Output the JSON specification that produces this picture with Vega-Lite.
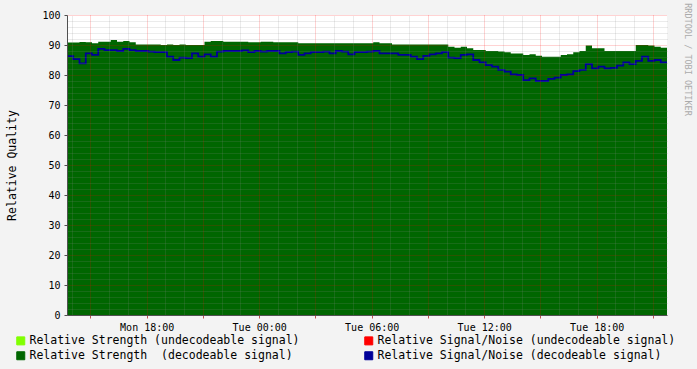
{
  "$schema": "https://vega.github.io/schema/vega-lite/v6.json",
  "autosize": "none",
  "width": 600,
  "height": 300,
  "padding": {"left": 67, "top": 15, "right": 30, "bottom": 54},
  "background": "#f3f3f3",
  "config": {"view": {"stroke": null, "fill": "white"}},
  "data": {"values": [
    {"t":"2024-01-01T13:45Z","g":90.8,"b":86.3},
    {"t":"2024-01-01T14:05Z","g":90.8,"b":85.3},
    {"t":"2024-01-01T14:25Z","g":91.0,"b":83.9},
    {"t":"2024-01-01T14:45Z","g":90.9,"b":87.2},
    {"t":"2024-01-01T15:05Z","g":90.6,"b":86.7},
    {"t":"2024-01-01T15:25Z","g":91.1,"b":88.7},
    {"t":"2024-01-01T15:45Z","g":91.1,"b":88.3},
    {"t":"2024-01-01T16:05Z","g":91.7,"b":88.3},
    {"t":"2024-01-01T16:25Z","g":91.1,"b":88.0},
    {"t":"2024-01-01T16:45Z","g":91.3,"b":88.7},
    {"t":"2024-01-01T17:05Z","g":90.9,"b":88.3},
    {"t":"2024-01-01T17:25Z","g":90.2,"b":88.0},
    {"t":"2024-01-01T17:45Z","g":90.2,"b":88.0},
    {"t":"2024-01-01T18:05Z","g":90.2,"b":87.8},
    {"t":"2024-01-01T18:25Z","g":90.2,"b":87.6},
    {"t":"2024-01-01T18:45Z","g":90.0,"b":87.6},
    {"t":"2024-01-01T19:05Z","g":90.2,"b":86.1},
    {"t":"2024-01-01T19:25Z","g":90.0,"b":85.0},
    {"t":"2024-01-01T19:45Z","g":90.2,"b":85.8},
    {"t":"2024-01-01T20:05Z","g":90.0,"b":85.6},
    {"t":"2024-01-01T20:25Z","g":90.0,"b":87.2},
    {"t":"2024-01-01T20:45Z","g":90.0,"b":86.1},
    {"t":"2024-01-01T21:05Z","g":91.1,"b":86.9},
    {"t":"2024-01-01T21:25Z","g":91.3,"b":86.1},
    {"t":"2024-01-01T21:45Z","g":91.3,"b":87.8},
    {"t":"2024-01-01T22:05Z","g":91.1,"b":88.0},
    {"t":"2024-01-01T22:25Z","g":91.1,"b":88.0},
    {"t":"2024-01-01T22:45Z","g":91.1,"b":88.0},
    {"t":"2024-01-01T23:05Z","g":91.1,"b":88.2},
    {"t":"2024-01-01T23:25Z","g":90.9,"b":87.6},
    {"t":"2024-01-01T23:45Z","g":90.9,"b":88.0},
    {"t":"2024-01-02T00:05Z","g":91.1,"b":87.8},
    {"t":"2024-01-02T00:25Z","g":91.1,"b":88.0},
    {"t":"2024-01-02T00:45Z","g":90.9,"b":88.0},
    {"t":"2024-01-02T01:05Z","g":90.9,"b":87.2},
    {"t":"2024-01-02T01:25Z","g":90.9,"b":87.6},
    {"t":"2024-01-02T01:45Z","g":90.9,"b":87.8},
    {"t":"2024-01-02T02:05Z","g":90.6,"b":86.7},
    {"t":"2024-01-02T02:25Z","g":90.6,"b":87.2},
    {"t":"2024-01-02T02:45Z","g":90.6,"b":87.6},
    {"t":"2024-01-02T03:05Z","g":90.6,"b":87.6},
    {"t":"2024-01-02T03:25Z","g":90.6,"b":87.8},
    {"t":"2024-01-02T03:45Z","g":90.6,"b":87.2},
    {"t":"2024-01-02T04:05Z","g":90.6,"b":88.0},
    {"t":"2024-01-02T04:25Z","g":90.6,"b":87.8},
    {"t":"2024-01-02T04:45Z","g":90.6,"b":86.9},
    {"t":"2024-01-02T05:05Z","g":90.6,"b":87.6},
    {"t":"2024-01-02T05:25Z","g":90.6,"b":87.6},
    {"t":"2024-01-02T05:45Z","g":90.6,"b":87.8},
    {"t":"2024-01-02T06:05Z","g":90.9,"b":88.0},
    {"t":"2024-01-02T06:25Z","g":90.6,"b":87.2},
    {"t":"2024-01-02T06:45Z","g":90.6,"b":87.2},
    {"t":"2024-01-02T07:05Z","g":90.2,"b":87.2},
    {"t":"2024-01-02T07:25Z","g":90.2,"b":86.7},
    {"t":"2024-01-02T07:45Z","g":90.2,"b":86.7},
    {"t":"2024-01-02T08:05Z","g":90.2,"b":86.1},
    {"t":"2024-01-02T08:25Z","g":90.2,"b":85.3},
    {"t":"2024-01-02T08:45Z","g":90.2,"b":86.4},
    {"t":"2024-01-02T09:05Z","g":90.2,"b":86.9},
    {"t":"2024-01-02T09:25Z","g":90.2,"b":87.2},
    {"t":"2024-01-02T09:45Z","g":90.2,"b":87.6},
    {"t":"2024-01-02T10:05Z","g":89.4,"b":85.8},
    {"t":"2024-01-02T10:25Z","g":89.1,"b":85.6},
    {"t":"2024-01-02T10:45Z","g":89.4,"b":86.7},
    {"t":"2024-01-02T11:05Z","g":88.9,"b":86.9},
    {"t":"2024-01-02T11:25Z","g":88.3,"b":85.0},
    {"t":"2024-01-02T11:45Z","g":88.3,"b":84.2},
    {"t":"2024-01-02T12:05Z","g":88.0,"b":83.3},
    {"t":"2024-01-02T12:25Z","g":88.0,"b":82.8},
    {"t":"2024-01-02T12:45Z","g":87.8,"b":81.7},
    {"t":"2024-01-02T13:05Z","g":87.6,"b":81.1},
    {"t":"2024-01-02T13:25Z","g":87.2,"b":80.2},
    {"t":"2024-01-02T13:45Z","g":87.2,"b":80.0},
    {"t":"2024-01-02T14:05Z","g":86.7,"b":78.3},
    {"t":"2024-01-02T14:25Z","g":86.9,"b":78.9},
    {"t":"2024-01-02T14:45Z","g":86.4,"b":78.0},
    {"t":"2024-01-02T15:05Z","g":86.1,"b":78.0},
    {"t":"2024-01-02T15:25Z","g":86.1,"b":78.7},
    {"t":"2024-01-02T15:45Z","g":86.1,"b":79.1},
    {"t":"2024-01-02T16:05Z","g":86.7,"b":80.0},
    {"t":"2024-01-02T16:25Z","g":86.9,"b":80.2},
    {"t":"2024-01-02T16:45Z","g":87.6,"b":81.3},
    {"t":"2024-01-02T17:05Z","g":88.0,"b":81.7},
    {"t":"2024-01-02T17:25Z","g":89.8,"b":83.6},
    {"t":"2024-01-02T17:45Z","g":88.9,"b":82.2},
    {"t":"2024-01-02T18:05Z","g":88.9,"b":82.8},
    {"t":"2024-01-02T18:25Z","g":88.0,"b":82.2},
    {"t":"2024-01-02T18:45Z","g":88.0,"b":82.4},
    {"t":"2024-01-02T19:05Z","g":88.0,"b":83.1},
    {"t":"2024-01-02T19:25Z","g":88.0,"b":84.2},
    {"t":"2024-01-02T19:45Z","g":88.0,"b":83.6},
    {"t":"2024-01-02T20:05Z","g":90.0,"b":84.7},
    {"t":"2024-01-02T20:25Z","g":90.0,"b":86.1},
    {"t":"2024-01-02T20:45Z","g":89.8,"b":84.7},
    {"t":"2024-01-02T21:05Z","g":89.4,"b":85.0},
    {"t":"2024-01-02T21:25Z","g":89.1,"b":84.2},
    {"t":"2024-01-02T21:45Z","g":89.1,"b":84.2}
  ]},
  "resolve": {"axis": {"x": "independent", "y": "independent"}},
  "layer": [
    {
      "mark": {"type": "area", "interpolate": "step-after"},
      "encoding": {
        "x": {
          "field": "t", "type": "temporal",
          "scale": {"type": "utc", "domain": [1704116700000, 1704231900000]},
          "axis": {
            "orient": "bottom",
            "title": null,
            "values": [1704121200000, 1704132000000, 1704142800000, 1704153600000, 1704164400000, 1704175200000, 1704186000000, 1704196800000, 1704207600000, 1704218400000, 1704229200000],
            "labelExpr": "utchours(datum.value) % 6 == 0 ? utcFormat(datum.value, '%a %H:%M') : ''",
            "labelOverlap": false,
            "labelFont": "DejaVu Sans Mono",
            "labelFontSize": 10,
            "labelColor": "black",
            "labelPadding": 4,
            "labelFlush": false,
            "grid": true,
            "gridDash": [1, 1],
            "gridColor": "#ff0000",
            "gridOpacity": 0.35,
            "tickSize": 3,
            "tickColor": "#c05050",
            "domainColor": "#505050",
            "zindex": 1
          }
        },
        "y": {
          "field": "g", "type": "quantitative",
          "scale": {"domain": [0, 100], "nice": false},
          "axis": {
            "title": "Relative Quality",
            "titleFont": "DejaVu Sans Mono",
            "titleFontSize": 11.5,
            "titleFontWeight": "normal",
            "titleColor": "black",
            "titlePadding": 24,
            "values": [0,10,20,30,40,50,60,70,80,90,100],
            "labelFont": "DejaVu Sans Mono",
            "labelFontSize": 10,
            "labelColor": "black",
            "labelPadding": 4,
            "labelFlush": false,
            "grid": true,
            "gridDash": [1, 1],
            "gridColor": "#ff0000",
            "gridOpacity": 0.35,
            "tickSize": 3,
            "tickColor": "#505050",
            "domainColor": "#505050",
            "zindex": 1
          }
        },
        "color": {
          "datum": "Relative Strength \u00a0(decodeable signal)",
          "scale": {
            "domain": ["Relative Strength (undecodeable signal)", "Relative Strength \u00a0(decodeable signal)", "Relative Signal/Noise (undecodeable signal)", "Relative Signal/Noise (decodeable signal)"],
            "range": ["#80ff00", "#006600", "#ff0000", "#000099"]
          },
          "legend": {
            "orient": "none",
            "legendX": -52,
            "legendY": 320,
            "columns": 2,
            "columnPadding": 62,
            "rowPadding": 2,
            "title": null,
            "symbolType": "square",
            "symbolSize": 64,
            "symbolStrokeColor": "black",
            "symbolStrokeWidth": 1,
            "symbolOpacity": 1,
            "labelOffset": 3,
            "labelLimit": 400,
            "labelFont": "DejaVu Sans Mono",
            "labelFontSize": 11.5,
            "labelColor": "black"
          }
        }
      }
    },
    {
      "mark": {"type": "line", "interpolate": "step-after", "strokeWidth": 1.8},
      "encoding": {
        "x": {
          "field": "t", "type": "temporal",
          "axis": {
            "orient": "top",
            "title": null,
            "values": [1704117600000, 1704124800000, 1704128400000, 1704135600000, 1704139200000, 1704146400000, 1704150000000, 1704157200000, 1704160800000, 1704168000000, 1704171600000, 1704178800000, 1704182400000, 1704189600000, 1704193200000, 1704200400000, 1704204000000, 1704211200000, 1704214800000, 1704222000000, 1704225600000],
            "labels": false,
            "ticks": false,
            "domain": false,
            "grid": true,
            "gridDash": [1, 1],
            "gridColor": "#8c8c8c",
            "gridOpacity": 0.35,
            "zindex": 1
          }
        },
        "y": {
          "field": "b", "type": "quantitative",
          "axis": {
            "orient": "right",
            "title": "RRDTOOL / TOBI OETIKER",
            "titleAngle": 90,
            "titleFont": "DejaVu Sans Mono",
            "titleFontSize": 8.5,
            "titleFontWeight": "normal",
            "titleColor": "#aaaaaa",
            "titleX": 20,
            "titleY": 44,
            "titleAlign": "center",
            "titleBaseline": "middle",
            "values": [2,4,6,8,12,14,16,18,22,24,26,28,32,34,36,38,42,44,46,48,52,54,56,58,62,64,66,68,72,74,76,78,82,84,86,88,92,94,96,98],
            "labels": false,
            "ticks": false,
            "domain": false,
            "grid": true,
            "gridDash": [1, 1],
            "gridColor": "#8c8c8c",
            "gridOpacity": 0.35,
            "zindex": 1
          }
        },
        "color": {"datum": "Relative Signal/Noise (decodeable signal)"}
      }
    }
  ]
}
